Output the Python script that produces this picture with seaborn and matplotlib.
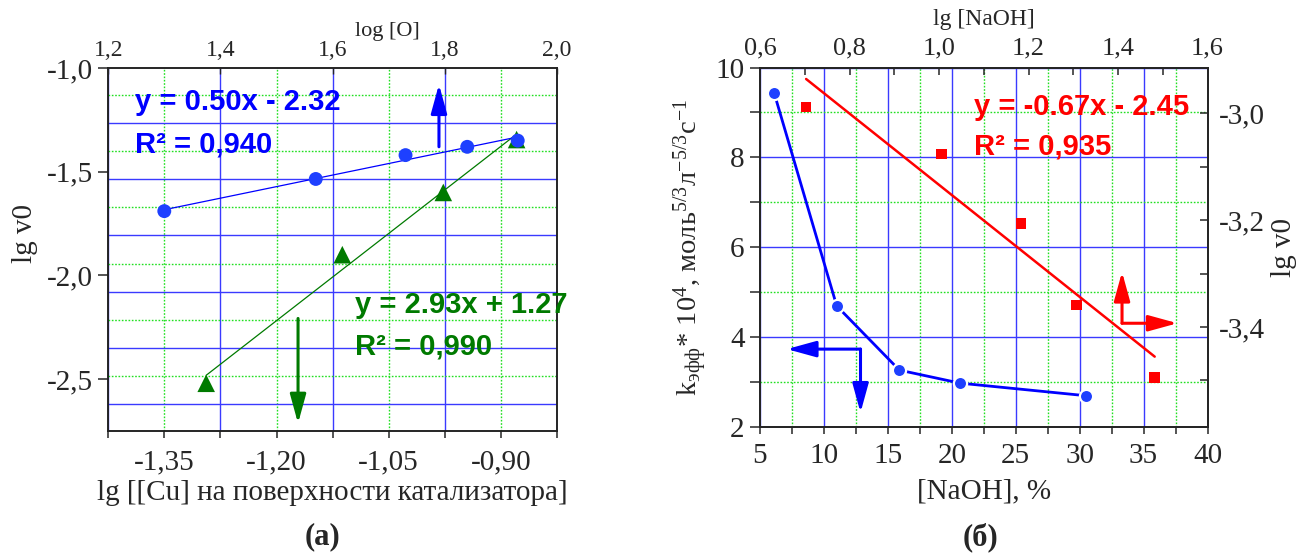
import numpy as np
import pandas as pd
import matplotlib
matplotlib.use("Agg")
import matplotlib.pyplot as plt
import seaborn as sns
from matplotlib.ticker import MultipleLocator, FuncFormatter

# ---------------- data ----------------
# panel (а)
o_log = [1.30, 1.57, 1.73, 1.84, 1.93]            # log [O]  (top axis)
lgv0_o = [-1.69, -1.535, -1.42, -1.38, -1.35]
cu_log = [-1.294, -1.112, -0.977, -0.879]         # lg [[Cu] ...] (bottom axis)
lgv0_cu = [-2.52, -1.90, -1.60, -1.345]
eq_o = ["y = 0.50x - 2.32", "R² = 0,940"]
eq_cu = ["y = 2.93x + 1.27", "R² = 0,990"]

# panel (б)
naoh_pct = [6.1, 11.0, 15.9, 20.65, 30.5]          # [NaOH], %  (bottom axis)
k_eff = [9.44, 4.69, 3.26, 2.97, 2.69]
lg_naoh = [0.703, 1.006, 1.183, 1.307, 1.482]      # lg [NaOH]  (top axis)
lgv0_naoh = [-2.988, -3.076, -3.206, -3.359, -3.495]
eq_naoh = ["y = -0.67x - 2.45", "R² = 0,935"]

panel_titles = ["(а)", "(б)"]

# ---------------- style ----------------
sns.set_style("white")
plt.rcParams["font.family"] = ["Liberation Serif", "DejaVu Serif"]
plt.rcParams["mathtext.fontset"] = "custom"
plt.rcParams["mathtext.rm"] = "Liberation Serif"
plt.rcParams["mathtext.it"] = "Liberation Serif:italic"
plt.rcParams["mathtext.bf"] = "Liberation Serif:bold"
plt.rcParams["axes.linewidth"] = 1.1

BLUE = "#0000ff"
BLUE_M = "#1e40ff"
GRID_BLUE = "#3a3aff"
GRID_GREEN = "#22e022"
GREEN = "#007a00"
RED = "#ff0000"
SANS = ["Liberation Sans", "DejaVu Sans"]

W, H = 1298, 553
fig = plt.figure(figsize=(W / 100, H / 100), dpi=100)


def px_axes(left, top, right, bottom):
    return [left / W, 1 - bottom / H, (right - left) / W, (bottom - top) / H]


def comma(fmt):
    return FuncFormatter(lambda v, p: fmt.format(v).replace(".", ","))


def arrow(ax, start, tip, color, lw):
    ax.annotate("", xy=tip, xytext=start, xycoords="axes fraction",
                textcoords="axes fraction",
                arrowprops=dict(arrowstyle="-|>,head_length=0.8,head_width=0.22",
                                mutation_scale=22, lw=lw, color=color,
                                shrinkA=0, shrinkB=0))


# =============== panel (а) =================
posL = px_axes(108.2, 68, 557, 431)
# grid layer
axg = fig.add_axes(posL)
axg.set_xlim(-1.425, -0.825)
axg.set_ylim(0.52, 6.98)
axg.xaxis.set_major_locator(MultipleLocator(0.15))
axg.xaxis.set_minor_locator(MultipleLocator(0.075))
axg.yaxis.set_major_locator(MultipleLocator(1.0))
axg.yaxis.set_minor_locator(MultipleLocator(0.5))
axg.xaxis.grid(True, which="major", color=GRID_GREEN, ls=(0, (1.2, 1.2)), lw=1.0)
axg.xaxis.grid(True, which="minor", color=GRID_BLUE, ls="-", lw=1.0)
axg.yaxis.grid(True, which="major", color=GRID_BLUE, ls="-", lw=1.0)
axg.yaxis.grid(True, which="minor", color=GRID_GREEN, ls=(0, (1.2, 1.2)), lw=1.0)
axg.tick_params(which="both", length=0, labelbottom=False, labelleft=False)
for s in axg.spines.values():
    s.set_visible(False)

ax = fig.add_axes(posL)
ax.set_facecolor("none")
sns.regplot(x=cu_log, y=lgv0_cu, ax=ax, ci=None, truncate=True,
            marker="^", color=GREEN,
            scatter_kws=dict(s=160, color=GREEN, edgecolors="none", alpha=1, zorder=4),
            line_kws=dict(color=GREEN, lw=0.9, zorder=3))
ax.set_xlim(-1.425, -0.825)
ax.set_ylim(-2.75, -1.0)
ax.xaxis.set_major_locator(MultipleLocator(0.15))
ax.xaxis.set_minor_locator(MultipleLocator(0.075))
ax.xaxis.set_major_formatter(comma("{:.2f}"))
ax.yaxis.set_major_locator(MultipleLocator(0.5))
ax.yaxis.set_major_formatter(comma("{:.1f}"))
ax.tick_params(axis="x", which="both", direction="out", length=5, width=1.1,
               labelsize=21, pad=8, bottom=True, top=False)
ax.tick_params(axis="y", which="both", direction="out", length=7, width=1.1,
               labelsize=21, pad=4, left=True, right=False)
for s in ax.spines.values():
    s.set_visible(True)
    s.set_color("black")

ax_top = ax.twiny()
ax_top.set_facecolor("none")
sns.regplot(x=o_log, y=lgv0_o, ax=ax_top, ci=None, truncate=True,
            marker="o", color=BLUE_M,
            scatter_kws=dict(s=100, color=BLUE_M, edgecolors="none", alpha=1, zorder=4),
            line_kws=dict(color=BLUE, lw=0.9, zorder=3))
ax_top.set_xlim(1.2, 2.0)
ax_top.set_ylim(-2.75, -1.0)
ax_top.xaxis.set_major_locator(MultipleLocator(0.2))
ax_top.xaxis.set_major_formatter(comma("{:.1f}"))
ax_top.tick_params(axis="x", which="both", direction="in", length=4, width=1.0,
                   labelsize=17, pad=5)

ax.set_xlabel("lg [[Cu] на поверхности катализатора]", fontsize=21)
ax.xaxis.set_label_coords(0.5, -0.170)
ax.xaxis.label.set_va("center")
ax.set_ylabel("lg v0", fontsize=21)
ax.yaxis.set_label_coords(-0.186, 0.545)
ax.yaxis.label.set_va("center")
ax_top.set_xlabel("log [O]", fontsize=16)
ax_top.xaxis.set_label_coords(0.623, 1.100)
ax_top.xaxis.label.set_va("center")

ax_top.text(0.059, 0.906, eq_o[0], transform=ax.transAxes, ha="left", va="center",
            fontsize=21, fontweight="bold", family=SANS, color=BLUE, zorder=6)
ax_top.text(0.059, 0.788, eq_o[1], transform=ax.transAxes, ha="left", va="center",
            fontsize=21, fontweight="bold", family=SANS, color=BLUE, zorder=6)
ax_top.text(0.55, 0.347, eq_cu[0], transform=ax.transAxes, ha="left", va="center",
            fontsize=21, fontweight="bold", family=SANS, color=GREEN, zorder=6)
ax_top.text(0.55, 0.232, eq_cu[1], transform=ax.transAxes, ha="left", va="center",
            fontsize=21, fontweight="bold", family=SANS, color=GREEN, zorder=6)

arrow(ax_top, (0.737, 0.783), (0.737, 0.955), BLUE, 2.2)
arrow(ax_top, (0.423, 0.310), (0.423, 0.021), GREEN, 2.2)

# =============== panel (б) =================
posR = px_axes(760, 67.5, 1207.5, 426.7)
ax2 = fig.add_axes(posR)
ax2.set_facecolor("white")
ax2.set_axisbelow(True)
ax2.set_xlim(5, 40)
ax2.set_ylim(2, 10)
ax2.xaxis.set_major_locator(MultipleLocator(5))
ax2.xaxis.set_minor_locator(MultipleLocator(2.5))
ax2.yaxis.set_major_locator(MultipleLocator(2))
ax2.yaxis.set_minor_locator(MultipleLocator(1))
ax2.xaxis.grid(True, which="major", color=GRID_BLUE, ls="-", lw=1.0)
ax2.xaxis.grid(True, which="minor", color=GRID_GREEN, ls=(0, (1.2, 1.2)), lw=1.0)
ax2.yaxis.grid(True, which="major", color=GRID_BLUE, ls="-", lw=1.0)
ax2.yaxis.grid(True, which="minor", color=GRID_GREEN, ls=(0, (1.2, 1.2)), lw=1.0)
df_k = pd.DataFrame({"naoh": naoh_pct, "k": k_eff})
sns.lineplot(data=df_k, x="naoh", y="k", ax=ax2, color=BLUE, lw=2.0,
             marker="o", markersize=9.5, markerfacecolor=BLUE_M,
             markeredgecolor="white", markeredgewidth=1.6, zorder=4)
ax2.tick_params(axis="x", which="both", direction="out", length=5, width=1.1,
                labelsize=21, pad=7, bottom=True, top=False)
ax2.tick_params(axis="y", which="both", direction="out", length=7, width=1.1,
                labelsize=21, pad=4, left=True, right=False)
for s in ax2.spines.values():
    s.set_visible(True)
    s.set_color("black")

ax2r = ax2.twinx()
ax2r.set_facecolor("none")
ax2r.set_ylim(-3.587, -2.914)
ax2r.yaxis.set_major_locator(MultipleLocator(0.2))
ax2r.yaxis.set_minor_locator(MultipleLocator(0.1))
ax2r.yaxis.set_major_formatter(comma("{:.1f}"))
ax2r.tick_params(axis="y", which="both", direction="in", length=6, width=1.1,
                 labelsize=21, pad=8)

ax2t = ax2r.twiny()
ax2t.set_facecolor("none")
sns.regplot(x=lg_naoh, y=lgv0_naoh, ax=ax2t, ci=None, truncate=True,
            marker="s", color=RED,
            scatter_kws=dict(s=60, color=RED, edgecolors="none", alpha=1, zorder=4),
            line_kws=dict(color=RED, lw=1.8, zorder=3))
ax2t.set_xlim(0.6, 1.6)
ax2r.set_ylim(-3.587, -2.914)
ax2t.xaxis.set_major_locator(MultipleLocator(0.2))
ax2t.xaxis.set_minor_locator(MultipleLocator(0.1))
ax2t.xaxis.set_major_formatter(comma("{:.1f}"))
ax2t.tick_params(axis="x", which="both", direction="in", length=5, width=1.1,
                 labelsize=19, pad=6)

ax2.set_xlabel("[NaOH], %", fontsize=21)
ax2.xaxis.set_label_coords(0.5, -0.181)
ax2.xaxis.label.set_va("center")
ax2.set_ylabel(r"k$_{\mathregular{эфф}}$* 10$^{\mathregular{4}}$, "
               r"моль$^{\mathregular{5/3}}$л$^{\mathregular{-5/3}}$с$^{\mathregular{-1}}$",
               fontsize=20.5)
ax2.yaxis.set_label_coords(-0.154, 0.498)
ax2.yaxis.label.set_va("center")
ax2r.set_ylabel("lg v0", fontsize=21)
ax2r.yaxis.set_label_coords(1.170, 0.50)
ax2r.yaxis.label.set_va("center")
ax2t.set_xlabel("lg [NaOH]", fontsize=17)
ax2t.xaxis.set_label_coords(0.5, 1.133)
ax2t.xaxis.label.set_va("center")

ax2t.text(0.479, 0.891, eq_naoh[0], transform=ax2.transAxes, ha="left", va="center",
          fontsize=21, fontweight="bold", family=SANS, color=RED, zorder=6)
ax2t.text(0.479, 0.780, eq_naoh[1], transform=ax2.transAxes, ha="left", va="center",
          fontsize=21, fontweight="bold", family=SANS, color=RED, zorder=6)

# L-shaped axis pointers
arrow(ax2t, (0.2246, 0.216), (0.060, 0.216), BLUE, 2.2)
arrow(ax2t, (0.2246, 0.216), (0.2246, 0.039), BLUE, 2.2)
arrow(ax2t, (0.809, 0.288), (0.809, 0.431), RED, 2.2)
arrow(ax2t, (0.809, 0.288), (0.933, 0.288), RED, 2.2)

# panel captions
fig.text(322 / W, 1 - 537 / H, panel_titles[0], ha="center", va="center",
         fontsize=22, fontweight="bold")
fig.text(980 / W, 1 - 537 / H, panel_titles[1], ha="center", va="center",
         fontsize=22, fontweight="bold")

fig.savefig("out.png", dpi=100)
